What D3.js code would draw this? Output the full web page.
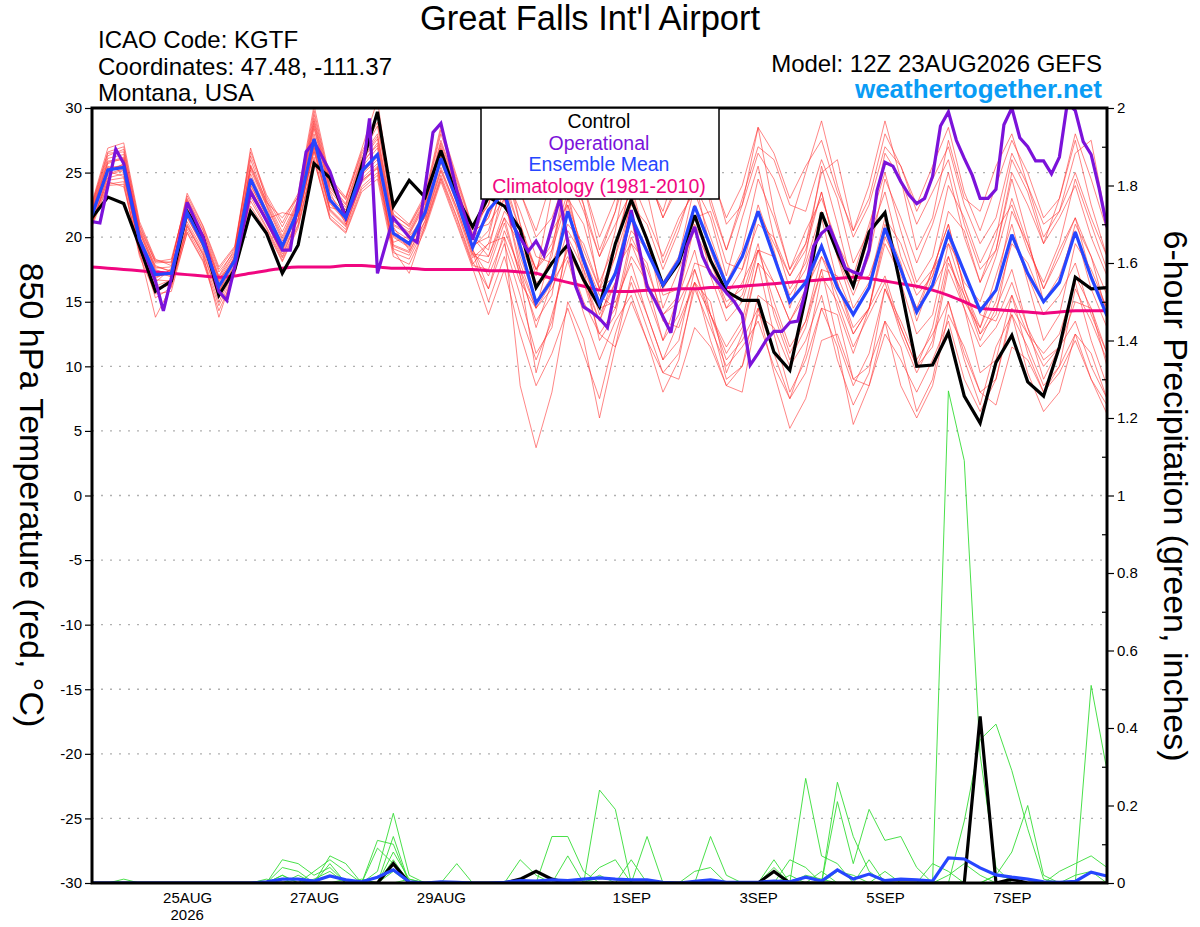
<!DOCTYPE html>
<html>
<head>
<meta charset="utf-8">
<script src="https://cdn.jsdelivr.net/npm/d3@7"></script>
<style>
  body { margin: 0; background: #fff; }
  svg { display: block; }
</style>
</head>
<body>
<svg id="chart"></svg>
<script>
const width = 1200;
const height = 927;
const plotLeft = 92;
const plotRight = 1107;
const plotTop = 108;
const plotBottom = 883;
const fontFamily = "'Liberation Sans', Arial, Helvetica, sans-serif";

// model run start, 6-hourly steps
const runStart = Date.UTC(2026, 7, 23, 12);
const stepCount = 65;

const tempTicks = [-30, -25, -20, -15, -10, -5, 0, 5, 10, 15, 20, 25, 30];
const precipTicks = [0, 0.2, 0.4, 0.6, 0.8, 1, 1.2, 1.4, 1.6, 1.8, 2];
const precipMinor = [0.1, 0.3, 0.5, 0.7, 0.9, 1.1, 1.3, 1.5, 1.7, 1.9];
const dateTicks = ["2026-08-25", "2026-08-27", "2026-08-29", "2026-09-01", "2026-09-03", "2026-09-05", "2026-09-07"];

// 850 hPa temperature, control run
const controlTemp = [21.5,23.1,22.6,19.3,15.8,16.6,22.0,20.0,15.5,17.5,22.0,20.3,17.2,19.4,25.7,24.6,21.6,25.5,29.7,22.4,
  24.4,23.1,26.7,23.1,20.8,23.1,22.4,20.6,16.1,18.0,19.4,16.7,14.6,19.5,22.9,19.8,16.3,18.0,21.7,18.2,
  15.8,15.1,15.1,11.1,9.7,15.4,21.9,18.8,16.2,20.4,21.9,16.1,10.0,10.1,12.6,7.7,5.6,10.3,12.4,8.8,
  7.7,11.5,16.9,16.0,16.1];

// ensemble mean
const meanTemp = [21.7,25.2,25.4,19.8,17.1,17.2,21.9,19.5,16.2,18.2,24.5,21.9,19.3,22.1,27.6,22.9,21.5,25.1,26.4,20.3,
  19.5,21.9,26.1,22.9,19.2,22.1,23.5,19.3,14.9,16.7,22.0,18.2,14.8,17.2,21.6,18.9,16.3,18.2,22.4,19.3,
  16.3,18.5,22.0,18.5,15.0,16.5,19.3,16.1,14.0,16.1,20.7,17.5,14.2,16.3,20.3,17.3,14.3,15.9,20.2,17.2,
  15.0,16.5,20.4,16.9,13.9];

// climatology 1981-2010
const climTemp = [17.7,17.6,17.5,17.4,17.3,17.2,17.1,17.0,16.9,17.0,17.2,17.4,17.6,17.7,17.7,17.7,17.8,17.8,17.7,17.6,
  17.6,17.5,17.5,17.5,17.5,17.4,17.4,17.3,17.2,16.8,16.5,16.2,15.9,15.8,15.8,15.9,15.9,16.0,16.0,16.1,
  16.1,16.2,16.3,16.4,16.5,16.6,16.7,16.8,16.9,16.8,16.6,16.4,16.2,15.9,15.5,15.0,14.5,14.4,14.3,14.2,
  14.1,14.2,14.3,14.3,14.3];

// operational run, 3-hourly where it bends (hours after run start)
const opHours = [0,3,9,12,18,24,27,30,36,42,48,51,54,60,66,72,75,81,84,90,96,102,105,108,114,120,123,129,132,138,
  144,150,156,159,165,168,171,177,183,186,189,192,195,204,210,213,219,225,228,231,234,240,243,246,249,252,255,258,261,264,
  267,270,273,276,279,282,285,288,291,294,297,300,303,306,309,312,315,318,321,324,327,330,333,336,339,342,345,348,351,354,
  357,360,363,366,369,372,375,378,381,384];
const opTemp = [21.2,21.1,26.8,25.7,19.8,16.6,14.3,16.8,22.7,20.0,15.8,15.1,17.7,23.5,21.3,19.0,19.0,26.6,27.4,25.1,21.5,24.5,29.2,17.2,21.5,20.0,19.6,28.1,28.8,23.6,
  19.8,24.2,23.5,21.0,18.9,19.7,18.6,23.0,16.2,14.6,14.2,13.7,13.0,22.1,16.2,15.1,12.6,19.3,20.8,18.5,17.2,15.7,15.0,14.0,10.1,11.0,12.0,12.7,12.7,13.4,
  13.5,15.9,19.3,20.3,20.8,19.3,17.6,17.3,17.1,19.0,23.6,25.8,25.5,24.3,23.3,22.6,23.0,24.7,28.6,29.7,27.5,26.1,24.8,23.0,23.0,23.7,28.7,30.0,27.7,27.0,
  25.9,25.9,24.9,26.2,30.4,29.8,27.4,26.4,23.8,20.8];

// ensemble members, temperature
const memberTemps = [
  [22.0,25.8,26.2,20.4,17.5,17.0,22.5,20.1,16.8,18.0,25.2,22.4,19.0,22.5,28.4,23.5,21.0,25.8,27.1,20.8,19.0,22.3,26.8,23.4,19.8,
   23.0,26.5,21.0,17.5,19.0,25.5,22.5,16.0,20.5,27.0,23.5,18.0,21.0,24.0,25.5,21.0,22.5,28.5,22.0,17.5,19.5,25.0,26.0,20.5,24.0,29.0,24.5,19.0,21.5,27.5,23.0,22.0,25.5,28.0,24.0,20.0,22.0,26.5,27.5,21.0],
  [21.3,24.6,24.9,19.2,16.5,17.6,21.2,19.0,15.7,18.6,23.8,21.4,21.9,21.6,26.9,22.3,22.0,24.5,25.7,19.6,20.1,21.5,25.4,22.2,18.7,
   18.5,21.5,17.0,13.5,15.5,22.5,17.5,12.0,14.0,19.5,18.0,13.5,13.0,16.5,15.0,9.5,12.5,18.0,12.5,8.0,10.5,14.5,14.0,9.0,8.5,13.5,11.5,6.5,9.0,15.0,10.5,7.0,11.5,14.0,9.5,6.5,8.0,12.5,11.0,7.5],
  [22.4,26.3,26.8,20.9,18.0,18.1,23.0,20.6,17.3,18.9,26.9,22.9,20.4,22.9,29.2,24.1,22.6,26.2,28.0,21.4,20.6,22.8,27.5,24.0,20.3,
   21.5,24.5,18.5,15.0,17.0,23.0,21.0,16.5,19.5,24.0,19.5,15.5,16.0,21.5,22.0,18.0,17.5,22.5,19.0,14.5,18.5,25.5,21.0,16.0,20.0,23.5,18.5,15.5,17.0,22.0,20.5,16.5,19.0,24.5,20.0,15.0,16.5,21.0,18.5,14.0],
  [21.0,24.1,24.3,18.7,15.9,16.4,20.6,18.4,15.0,17.4,23.1,20.8,18.4,21.0,26.2,21.7,20.6,23.9,25.0,19.1,18.6,21.0,24.8,21.6,18.1,
   16.0,19.5,15.5,11.0,13.0,20.0,17.5,14.5,15.0,18.0,14.0,10.5,12.0,17.5,13.5,9.0,10.0,15.5,14.5,11.0,13.5,17.5,12.0,8.5,11.0,16.0,13.0,10.0,13.0,18.5,14.5,9.5,10.5,15.5,12.5,11.0,12.5,16.5,12.0,8.5],
  [21.9,25.5,25.0,19.5,16.8,17.5,22.3,19.9,16.6,18.4,24.9,22.1,19.5,22.4,28.0,23.2,21.8,25.4,26.9,20.6,19.8,22.1,26.4,23.1,19.4,
   20.0,25.0,22.0,18.5,18.0,21.0,19.5,16.0,17.0,23.0,20.0,14.5,17.5,20.5,18.0,15.0,16.0,22.0,19.5,17.0,19.5,23.5,18.5,15.5,18.5,24.5,21.5,18.0,21.0,25.0,20.0,16.5,20.0,26.0,23.5,19.5,23.0,27.5,22.5,18.5],
  [21.5,25.0,25.7,20.1,17.4,16.9,21.6,19.2,15.9,17.9,24.1,21.6,19.0,21.8,27.2,22.6,21.2,24.8,26.0,20.0,19.2,21.6,25.8,22.6,18.9,
   15.0,18.5,14.0,10.5,13.5,19.5,16.5,12.5,11.5,15.0,12.0,8.0,10.5,16.5,14.0,10.5,12.0,14.5,11.0,7.5,11.0,17.0,15.0,11.5,14.0,16.5,12.5,9.5,12.0,18.0,15.5,12.0,14.5,17.5,13.0,9.0,11.5,15.0,14.5,11.0],
  [22.7,26.9,27.3,21.2,18.3,17.8,23.4,20.9,17.7,19.3,26.6,23.3,21.1,23.4,30.2,24.6,23.1,26.8,30.6,22.1,21.0,23.3,28.6,24.7,20.8,
   22.5,27.5,23.5,20.0,21.5,25.0,24.0,19.0,22.0,28.5,25.0,21.5,24.5,27.5,22.5,19.0,23.0,27.0,26.0,22.5,22.0,26.0,23.0,18.0,20.5,26.5,24.5,21.0,23.5,26.0,21.0,17.5,19.0,25.0,22.5,19.5,21.5,24.0,20.0,17.0],
  [21.2,24.3,23.9,18.9,13.8,16.2,20.3,18.1,14.3,17.1,22.4,20.5,18.1,20.7,26.0,21.4,20.3,23.5,24.5,18.5,17.9,20.6,24.3,21.0,17.6,
   14.0,17.5,12.5,8.5,11.0,14.5,11.0,7.5,12.5,16.5,13.0,9.5,9.0,13.0,11.5,8.5,8.0,14.5,9.5,5.2,7.5,12.0,12.5,9.0,10.0,13.5,8.5,6.0,8.5,14.0,11.5,8.0,7.0,11.5,10.5,8.0,9.5,12.0,9.0,6.3],
  [22.2,25.9,26.0,20.6,17.8,17.3,22.8,19.7,16.5,18.5,25.5,22.6,19.9,22.7,28.8,23.8,22.3,25.9,27.6,21.0,20.3,22.6,27.1,23.7,20.0,
   18.5,22.0,20.5,17.5,19.5,23.5,18.0,14.0,16.5,20.5,19.0,16.0,18.0,22.5,17.0,13.5,15.0,19.0,18.5,15.5,17.5,21.5,16.5,12.5,14.5,20.0,17.5,14.5,16.0,18.5,15.0,13.0,17.0,21.0,16.5,12.0,14.0,19.5,17.5,14.5],
  [20.9,24.8,25.2,19.0,16.2,16.7,21.0,18.8,15.4,17.7,23.5,21.1,18.7,21.3,27.0,22.1,20.9,24.2,25.4,19.4,18.9,21.2,25.1,22.0,18.4,
   19.5,23.0,18.0,14.5,16.0,19.0,16.5,13.5,16.5,21.5,15.5,12.0,14.0,18.0,17.5,14.5,15.5,19.5,14.0,10.5,13.0,17.5,17.0,14.0,16.0,21.0,18.0,13.5,17.0,20.0,16.5,15.0,18.5,23.0,19.5,16.0,19.0,21.5,18.5,15.5],
  [21.8,25.3,25.6,19.9,17.0,17.1,21.8,19.6,16.1,18.2,24.6,22.0,19.4,22.2,27.7,23.0,21.6,25.2,26.5,20.4,19.6,22.0,26.2,23.0,19.2,
   20.5,24.5,20.5,16.0,18.5,25.0,22.0,18.5,21.0,23.5,19.5,16.5,18.5,24.0,21.5,17.0,21.5,25.5,20.0,16.0,18.0,22.0,19.0,16.5,17.0,20.5,16.5,12.5,14.0,19.5,17.5,14.0,13.5,16.5,13.0,10.5,11.5,17.0,14.5,10.0],
  [22.5,26.5,26.6,20.7,18.1,18.3,22.9,20.5,17.0,19.1,26.0,22.7,21.5,23.1,29.5,24.3,23.0,26.4,28.6,21.8,20.8,23.0,28.0,24.3,20.6,
   21.0,23.0,17.5,13.0,16.5,20.5,18.5,15.5,14.5,18.5,16.5,12.0,15.5,19.0,14.0,11.0,13.0,18.0,16.5,13.5,15.5,19.5,14.5,11.0,14.5,20.5,17.5,14.0,17.5,21.0,16.0,13.0,16.0,22.0,19.5,16.0,18.5,21.5,17.0,14.5],
  [21.4,24.9,25.3,19.6,16.7,16.6,21.5,19.3,15.8,17.8,24.0,21.7,19.1,21.9,27.3,22.7,21.3,24.9,26.2,20.1,19.3,21.7,25.9,22.7,19.0,
   17.0,20.0,16.5,14.5,19.0,23.0,18.5,15.0,18.5,22.5,21.0,17.5,20.5,24.5,19.0,15.5,17.5,21.0,20.0,17.0,19.0,23.5,18.5,14.5,16.5,21.5,19.5,16.0,17.5,19.5,15.5,12.5,14.0,20.0,17.0,14.0,15.5,18.0,14.0,11.0],
  [21.6,25.1,24.7,19.3,15.3,16.1,20.9,18.6,13.8,17.5,23.3,21.2,18.5,21.5,26.6,22.0,20.8,24.3,25.5,19.0,17.2,20.9,24.6,21.5,17.9,
   19.5,20.0,8.5,3.7,8.0,15.0,12.1,6.0,11.5,17.0,14.0,10.5,13.5,16.5,12.0,8.5,10.0,14.0,13.0,10.0,12.0,15.5,10.5,7.0,9.5,16.0,13.5,10.5,12.5,15.0,11.0,8.0,9.0,14.5,12.5,10.0,11.5,13.5,10.0,7.5],
  [22.1,25.7,26.1,20.3,17.6,17.7,22.6,20.3,16.9,18.8,25.4,22.5,19.7,22.6,28.6,23.6,22.1,25.6,27.3,20.9,20.2,22.4,26.9,23.6,19.9,
   21.5,25.5,21.0,17.0,23.5,27.5,22.5,18.5,22.0,26.0,25.0,21.5,24.0,28.0,23.0,19.0,22.5,26.5,24.5,21.0,25.0,29.0,24.0,20.0,22.5,27.0,25.5,22.5,25.5,28.5,23.5,20.5,24.0,27.5,25.0,21.5,23.0,28.0,24.5,20.5],
  [21.1,24.4,24.6,19.1,16.1,16.3,20.8,18.7,15.3,17.6,23.7,21.3,18.9,21.4,26.7,22.2,21.0,24.4,25.3,19.3,18.8,21.3,25.2,22.3,18.6,
   18.0,21.5,19.5,16.5,17.0,22.0,17.0,13.5,17.5,19.5,16.5,14.0,15.5,21.0,18.5,14.5,16.5,19.0,15.0,11.5,13.5,18.5,16.5,13.0,14.5,17.0,13.0,10.0,11.5,17.5,14.5,11.5,13.0,15.5,11.0,8.0,10.0,16.0,13.5,10.5],
  [22.3,26.1,26.4,20.5,17.7,17.4,22.7,20.2,16.7,18.7,25.6,22.8,20.1,22.8,29.0,23.9,22.5,26.0,27.8,21.2,20.4,22.7,27.3,23.9,20.1,
   19.0,24.0,20.5,17.5,20.5,22.5,19.0,16.0,18.5,24.5,21.5,18.5,21.5,23.5,20.0,16.5,19.0,24.5,21.5,17.5,20.5,23.0,19.5,17.0,21.0,25.0,20.5,16.5,18.5,24.0,21.5,18.0,20.5,22.5,19.0,16.5,19.5,24.5,21.0,17.5],
  [21.7,25.4,25.5,19.7,16.9,17.3,22.0,19.4,16.3,18.3,24.4,21.8,19.2,22.0,27.5,22.8,21.4,25.0,26.3,20.2,19.4,21.8,26.0,22.8,19.1,
   16.0,20.5,17.5,14.5,16.5,18.5,15.0,12.5,14.5,20.0,17.5,14.0,15.0,17.5,14.0,11.5,13.5,19.0,16.5,13.5,16.0,18.5,15.5,12.5,14.5,19.5,17.0,14.5,17.5,21.0,16.0,12.5,15.0,19.5,18.0,15.0,17.0,20.5,16.0,13.0],
  [20.8,24.0,24.1,18.5,15.6,15.8,20.4,18.2,14.7,17.2,22.8,20.7,18.2,20.9,25.9,21.5,20.4,23.7,24.8,18.8,18.3,20.8,24.5,21.2,17.8,
   17.5,21.1,17.0,9.5,14.0,18.2,14.1,10.5,13.5,15.5,12.0,9.5,11.0,16.0,13.0,10.0,11.5,13.5,10.0,7.5,9.5,14.5,11.5,5.5,8.5,12.5,10.5,8.0,10.5,13.5,9.0,6.5,9.0,14.0,11.5,8.5,10.0,12.5,9.0,7.0],
  [22.6,26.6,27.0,21.0,18.2,18.0,23.2,20.8,17.5,19.2,26.3,23.1,20.8,23.2,29.8,24.4,22.9,26.6,28.9,21.7,20.9,23.1,28.3,24.5,20.7,
   22.5,26.0,23.5,20.5,24.5,28.5,24.0,20.0,23.0,27.0,24.5,22.0,26.0,29.5,25.0,21.5,24.0,28.5,26.5,23.0,25.5,27.5,23.5,20.5,23.0,28.0,25.5,22.0,24.5,27.0,22.5,19.5,21.5,26.5,24.0,21.0,22.0,25.0,21.5,18.5]
];

// 6-hour precipitation, inches
const controlPrecip = [0,0,0,0,0,0,0,0,0,0, 0,0,0,0,0,0,0,0,0,0.05, 0,0,0,0,0,0,0,0.01,0.03,0.01,
  0,0,0,0,0,0,0,0,0,0, 0,0,0,0.03,0,0,0,0,0,0, 0,0,0,0,0,0,0.43,0,0.01,0, 0,0,0,0,0];
const meanPrecip = [0,0,0,0,0,0,0,0,0,0, 0,0.003,0.01,0.01,0.005,0.018,0.008,0.003,0.015,0.034,
  0.003,0,0.003,0.002,0,0,0.002,0.006,0.005,0.008, 0.006,0.01,0.013,0.01,0.008,0.008,0.002,0,0.004,0.008,
  0.002,0.002,0.002,0.005,0.003,0.015,0.005,0.034,0.01,0.023, 0.006,0.01,0.008,0.005,0.065,0.062,0.039,0.021,0.015,0.01,
  0.003,0.002,0.004,0.028,0.018];
const memberPrecip = [
  [0,0,0,0,0,0,0,0,0,0, 0,0,0.06,0.05,0.02,0.04,0,0,0.03,0.18, 0.02,0,0,0,0,0,0,0,0,0.12,
   0.12,0.03,0,0,0,0,0,0,0,0, 0,0,0,0,0,0.27,0.07,0.05,0,0, 0,0,0,0,1.27,1.09,0.33,0.04,0,0, 0,0,0,0,0],
  [0,0,0,0,0,0,0,0,0,0, 0,0,0,0,0,0.07,0.05,0,0,0.12, 0,0,0,0,0,0,0,0,0,0,
   0,0,0.24,0.19,0,0,0,0,0,0, 0,0,0,0,0,0,0,0.26,0.12,0.03, 0,0,0,0,0,0,0,0,0,0, 0,0,0,0.51,0.29],
  [0,0,0,0,0,0,0,0,0,0, 0,0,0.04,0.03,0,0,0,0,0.11,0.1, 0,0,0,0,0,0,0,0.06,0.02,0,
   0,0,0,0,0,0.12,0,0,0,0, 0,0,0,0,0,0,0,0.21,0.05,0.19, 0.11,0.12,0.04,0,0,0,0,0,0,0, 0,0,0,0,0],
  [0,0,0.01,0,0,0,0,0,0,0, 0,0,0,0,0.03,0.06,0.03,0,0,0.06, 0,0,0,0.05,0,0,0,0,0,0,
   0,0,0,0,0,0,0,0,0,0.12, 0.02,0,0,0,0.06,0.04,0,0,0,0, 0,0,0,0,0,0.16,0.37,0.41,0.29,0.14, 0.01,0,0,0,0],
  [0,0,0,0,0,0,0,0,0,0, 0,0,0.02,0,0,0.05,0,0,0.09,0.05, 0,0,0,0,0,0,0,0,0,0,
   0.07,0,0.04,0.06,0,0,0,0,0,0, 0,0,0,0.06,0,0,0.03,0,0,0.06, 0,0,0,0,0,0,0,0.02,0.08,0.2, 0.02,0,0,0,0],
  [0,0,0,0,0,0,0,0,0,0, 0,0.01,0,0.02,0,0,0,0.01,0,0, 0.01,0,0,0,0,0,0,0,0,0,
   0,0,0.02,0,0.06,0,0,0,0.03,0.04, 0,0,0,0.04,0,0,0,0,0,0, 0.03,0,0,0.05,0.03,0,0,0,0,0, 0,0.03,0.05,0.07,0.04],
  [0,0,0,0,0,0,0,0,0,0, 0,0,0.02,0,0.01,0.03,0,0,0,0.03, 0,0,0,0,0,0,0,0,0,0,
   0,0,0,0,0,0,0,0,0,0, 0,0,0,0,0.02,0,0,0.03,0.02,0, 0,0,0,0,0,0,0,0.02,0.01,0, 0,0,0.02,0.03,0],
  [0,0,0,0,0,0,0,0,0,0, 0,0,0,0.01,0,0,0.01,0,0,0.08, 0.01,0,0,0,0,0,0,0,0,0,
   0,0.01,0,0,0,0,0,0,0,0, 0,0,0,0,0,0.02,0.01,0,0,0, 0,0,0,0,0.02,0.05,0.02,0,0,0, 0,0,0,0,0]
];

const svg = d3.select("#chart")
    .attr("width", width)
    .attr("height", height)
    .attr("font-family", fontFamily);

svg.append("rect")
    .attr("width", width)
    .attr("height", height)
    .attr("fill", "#fff");

const x = d3.scaleUtc()
    .domain([new Date(runStart), new Date(runStart + (stepCount - 1) * 6 * 3600e3)])
    .range([plotLeft, plotRight]);
const yT = d3.scaleLinear().domain([-30, 30]).range([plotBottom, plotTop]);
const yP = d3.scaleLinear().domain([0, 2]).range([plotBottom, plotTop]);

const xStep = i => x(new Date(runStart + i * 6 * 3600e3));
const xHour = h => x(new Date(runStart + h * 3600e3));

// dotted grid
svg.append("g")
    .selectAll("line")
    .data(tempTicks.filter(d => d > -30 && d < 30))
    .join("line")
    .attr("x1", plotLeft)
    .attr("x2", plotRight)
    .attr("y1", d => yT(d))
    .attr("y2", d => yT(d))
    .attr("stroke", "#b0b0b0")
    .attr("stroke-width", 1.4)
    .attr("stroke-dasharray", "2,7");

svg.append("clipPath")
    .attr("id", "plot-clip")
    .append("rect")
    .attr("x", plotLeft)
    .attr("y", plotTop)
    .attr("width", plotRight - plotLeft)
    .attr("height", plotBottom - plotTop);

const plot = svg.append("g").attr("clip-path", "url(#plot-clip)");

const lineT = d3.line().x((d, i) => xStep(i)).y(d => yT(d));
const lineP = d3.line().x((d, i) => xStep(i)).y(d => yP(d));

plot.append("g")
    .selectAll("path")
    .data(memberTemps)
    .join("path")
    .attr("d", lineT)
    .attr("fill", "none")
    .attr("stroke", "#ff3030")
    .attr("stroke-opacity", 0.78)
    .attr("stroke-width", 0.75);

plot.append("g")
    .selectAll("path")
    .data(memberPrecip)
    .join("path")
    .attr("d", lineP)
    .attr("fill", "none")
    .attr("stroke", "#36dc36")
    .attr("stroke-width", 0.9);

plot.append("path")
    .attr("d", d3.line().curve(d3.curveMonotoneX).x((d, i) => xStep(i)).y(d => yT(d))(climTemp))
    .attr("fill", "none")
    .attr("stroke", "#f00680")
    .attr("stroke-width", 3);

function thickLine(path, color) {
    plot.append("path")
        .attr("d", path)
        .attr("fill", "none")
        .attr("stroke", color)
        .attr("stroke-width", 3.2)
        .attr("stroke-linejoin", "miter")
        .attr("stroke-miterlimit", 3);
}

thickLine(lineT(controlTemp), "#000");
thickLine(lineP(controlPrecip), "#000");
thickLine(d3.line().x(d => xHour(d[0])).y(d => yT(d[1]))(d3.zip(opHours, opTemp)), "#7b12da");
thickLine(lineT(meanTemp), "#2646ff");
thickLine(lineP(meanPrecip), "#2646ff");

// frame
svg.append("rect")
    .attr("x", plotLeft)
    .attr("y", plotTop)
    .attr("width", plotRight - plotLeft)
    .attr("height", plotBottom - plotTop)
    .attr("fill", "none")
    .attr("stroke", "#000")
    .attr("stroke-width", 3);

function styleAxis(g, size) {
    g.attr("font-family", fontFamily).attr("font-size", size);
    g.select(".domain").remove();
    g.selectAll("text").attr("fill", "#000");
    g.selectAll(".tick line").attr("stroke", "#000").attr("stroke-width", 1.2);
}

svg.append("g")
    .attr("transform", `translate(${plotLeft},0)`)
    .call(d3.axisLeft(yT).tickValues(tempTicks).tickFormat(d => String(d)).tickSize(7).tickPadding(3))
    .call(g => styleAxis(g, 15));

svg.append("g")
    .attr("transform", `translate(${plotRight},0)`)
    .call(d3.axisRight(yP).tickValues(precipTicks).tickFormat(d => String(d)).tickSize(7).tickPadding(3))
    .call(g => styleAxis(g, 15));

svg.append("g")
    .attr("transform", `translate(${plotRight},0)`)
    .call(d3.axisLeft(yP).tickValues(precipMinor).tickFormat("").tickSize(5))
    .call(g => styleAxis(g, 15));

const parseDay = d3.utcParse("%Y-%m-%d");
const dayLabel = d3.utcFormat("%-d%b");
svg.append("g")
    .attr("transform", `translate(0,${plotBottom})`)
    .call(d3.axisBottom(x).tickValues(dateTicks.map(parseDay)).tickFormat(d => dayLabel(d).toUpperCase()).tickSize(0).tickPadding(9))
    .call(g => styleAxis(g, 15));

svg.append("text")
    .attr("x", x(parseDay(dateTicks[0])))
    .attr("y", 920)
    .attr("text-anchor", "middle")
    .attr("font-size", 15)
    .text("2026");

// legend
svg.append("rect")
    .attr("x", 481)
    .attr("y", plotTop)
    .attr("width", 238)
    .attr("height", 91)
    .attr("fill", "#fff")
    .attr("stroke", "#000")
    .attr("stroke-width", 1.5);

const legendItems = ["Control", "Operational", "Ensemble Mean", "Climatology (1981-2010)"];
const legendColors = ["#000", "#7b12da", "#2646ff", "#f00680"];
svg.append("g")
    .selectAll("text")
    .data(legendItems)
    .join("text")
    .attr("x", 599)
    .attr("y", (d, i) => 128 + i * 21.5)
    .attr("text-anchor", "middle")
    .attr("font-size", 19.5)
    .attr("fill", (d, i) => legendColors[i])
    .text(d => d);

// titles
svg.append("text")
    .attr("x", 590)
    .attr("y", 30)
    .attr("text-anchor", "middle")
    .attr("font-size", 34.5)
    .text("Great Falls Int'l Airport");

const infoLines = ["ICAO Code: KGTF", "Coordinates: 47.48, -111.37", "Montana, USA"];
svg.append("g")
    .selectAll("text")
    .data(infoLines)
    .join("text")
    .attr("x", 98)
    .attr("y", (d, i) => 48 + i * 26.5)
    .attr("font-size", 24)
    .text(d => d);

svg.append("text")
    .attr("x", 1102)
    .attr("y", 72)
    .attr("text-anchor", "end")
    .attr("font-size", 24)
    .text("Model: 12Z 23AUG2026 GEFS");

svg.append("text")
    .attr("x", 1102)
    .attr("y", 98)
    .attr("text-anchor", "end")
    .attr("font-size", 26)
    .attr("font-weight", "bold")
    .attr("fill", "#0a9cf5")
    .text("weathertogether.net");

svg.append("text")
    .attr("transform", "translate(20,495) rotate(90)")
    .attr("text-anchor", "middle")
    .attr("font-size", 34)
    .text("850 hPa Temperature (red, °C)");

svg.append("text")
    .attr("transform", "translate(1164,496) rotate(90)")
    .attr("text-anchor", "middle")
    .attr("font-size", 34)
    .text("6-hour Precipitation (green, inches)");
</script>
</body>
</html>
